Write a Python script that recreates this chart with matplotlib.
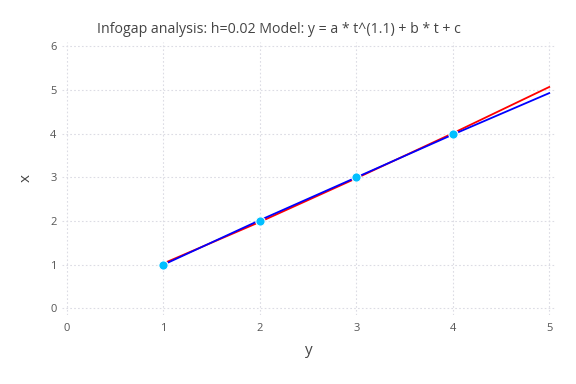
import matplotlib
matplotlib.use("Agg")
import matplotlib.pyplot as plt

plt.rcParams['font.family'] = ['Open Sans', 'DejaVu Sans']

# data points
pts_x = [1, 2, 3, 4]
pts_y = [1, 2, 3, 4]

# fitted curves
fit_t = [1, 2, 3, 4, 5]
red_y = [1.03, 1.98, 2.98, 4.01, 5.07]
blue_y = [1.0, 2.02, 3.0, 3.98, 4.93]

xticks = [0, 1, 2, 3, 4, 5]
yticks = [0, 1, 2, 3, 4, 5, 6]

fig = plt.figure(figsize=(5.76, 3.84), dpi=100)
ax = fig.add_axes([62 / 576, 69 / 384, 493 / 576, 273 / 384])

ax.plot(fit_t, red_y, color='red', lw=1.3, zorder=3)
ax.plot(fit_t, blue_y, color='blue', lw=1.3, zorder=3)
ax.scatter(pts_x, pts_y, s=45, color='#00bfff', edgecolor='white', linewidth=0.8, zorder=4)

ax.set_xlim(-0.05, 5.06)
ax.set_ylim(-0.15, 6.1)
ax.set_xticks(xticks)
ax.set_yticks(yticks)
ax.grid(True, color='#dcdce4', linestyle=(0, (1.5, 2)), linewidth=0.8)
ax.set_axisbelow(True)
for s in ax.spines.values():
    s.set_visible(False)
ax.tick_params(axis='x', length=0, labelsize=8, colors='#555555', pad=6)
ax.tick_params(axis='y', length=0, labelsize=8, colors='#555555', pad=4)

ax.set_xlabel('y', fontsize=11, color='#444444', labelpad=6)
ax.set_ylabel('x', fontsize=11, color='#444444', labelpad=12)
fig.text(0.485, 0.922, 'Infogap analysis: h=0.02 Model: y = a * t^(1.1) + b * t + c',
         ha='center', va='center', fontsize=10.2, color='#444444')

plt.savefig('out.png', dpi=100)
